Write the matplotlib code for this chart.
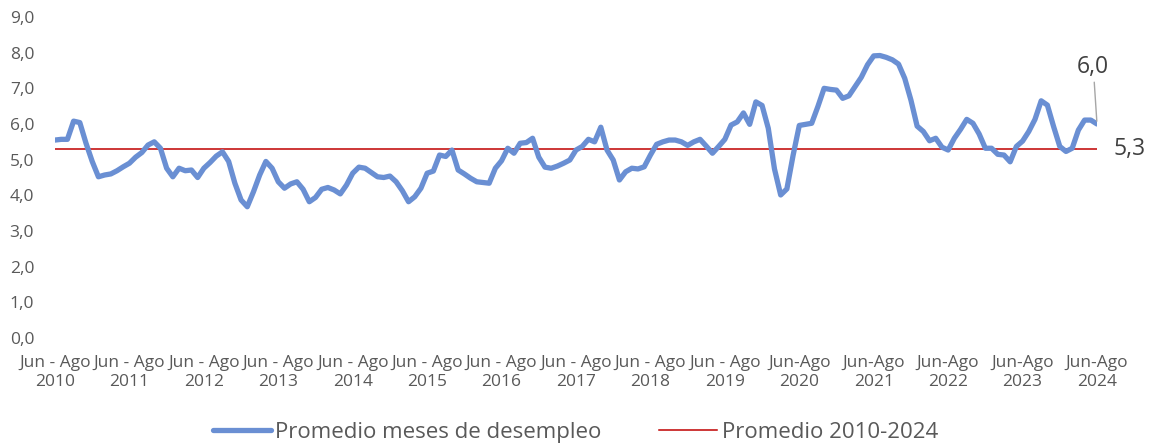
import matplotlib
matplotlib.use("Agg")
import matplotlib.pyplot as plt
from matplotlib.ticker import FuncFormatter

plt.rcParams['font.family'] = ['Open Sans', 'DejaVu Sans']

# Data: 3-month rolling "Jun-Ago 2010" .. "Jun-Ago 2024" (169 monthly points)
desempleo = [
    5.55, 5.57, 5.57, 6.08, 6.04, 5.46, 4.95, 4.52, 4.57, 4.60, 4.69, 4.80,
    4.90, 5.07, 5.20, 5.41, 5.50, 5.32, 4.76, 4.52, 4.76, 4.69, 4.71, 4.50,
    4.76, 4.92, 5.10, 5.22, 4.95, 4.34, 3.87, 3.68, 4.10, 4.57, 4.95, 4.76,
    4.38, 4.20, 4.32, 4.38, 4.17, 3.82, 3.94, 4.17, 4.22, 4.15, 4.04, 4.29,
    4.62, 4.79, 4.76, 4.64, 4.52, 4.50, 4.54, 4.38, 4.13, 3.82, 3.96, 4.20,
    4.62, 4.68, 5.13, 5.09, 5.27, 4.71, 4.60, 4.48, 4.38, 4.36, 4.34, 4.76,
    4.97, 5.32, 5.18, 5.46, 5.48, 5.60, 5.07, 4.79, 4.76, 4.82, 4.90, 4.99,
    5.27, 5.37, 5.57, 5.50, 5.91, 5.27, 4.99, 4.43, 4.66, 4.76, 4.74, 4.80,
    5.13, 5.43, 5.50, 5.55, 5.55, 5.50, 5.40, 5.50, 5.57, 5.38, 5.18, 5.37,
    5.57, 5.97, 6.06, 6.31, 5.99, 6.62, 6.52, 5.88, 4.74, 4.01, 4.18, 5.12,
    5.96, 5.99, 6.02, 6.49, 7.00, 6.97, 6.95, 6.72, 6.79, 7.05, 7.31, 7.66,
    7.91, 7.92, 7.87, 7.80, 7.68, 7.28, 6.67, 5.94, 5.79, 5.53, 5.60, 5.35,
    5.27, 5.60, 5.85, 6.13, 6.02, 5.72, 5.32, 5.32, 5.15, 5.13, 4.94, 5.37,
    5.52, 5.79, 6.13, 6.65, 6.53, 5.93, 5.37, 5.23, 5.32, 5.83, 6.11, 6.11,
    6.00,
]
promedio = 5.3
years = list(range(2010, 2025))
tick_labels = [("Jun - Ago\n%d" % y) if y < 2020 else ("Jun-Ago\n%d" % y) for y in years]
ultimo_label = "6,0"
promedio_label = "5,3"

x = list(range(len(desempleo)))
tick_pos = list(range(0, len(desempleo), 12))

fig = plt.figure(figsize=(11.51, 4.44), dpi=100)
ax = fig.add_axes([55/1151, (444-338)/444, (1097-55)/1151, (338-17)/444])

blue = '#6a8fd3'
red = '#c00000'
grey = '#595959'

ax.plot(x, desempleo, color=blue, lw=3.8, solid_capstyle='round', solid_joinstyle='round',
        label='Promedio meses de desempleo', zorder=3)
ax.plot([x[0], x[-1]], [promedio, promedio], color=red, lw=1.1,
        label='Promedio 2010-2024', zorder=2)

ax.set_xlim(0, len(desempleo) - 1)
ax.set_ylim(0, 9)
ax.set_yticks(range(0, 10))
ax.yaxis.set_major_formatter(FuncFormatter(lambda v, p: ("%.1f" % v).replace('.', ',')))
ax.set_xticks(tick_pos)
ax.set_xticklabels(tick_labels, linespacing=1.3)
ax.tick_params(axis='both', length=0, labelsize=12.5, labelcolor=grey)
ax.tick_params(axis='y', pad=15)
ax.tick_params(axis='x', pad=12)
for s in ax.spines.values():
    s.set_visible(False)

# annotations
ax.annotate(ultimo_label, xy=(x[-1], desempleo[-1]), xytext=(x[-1] - 0.6, 7.25),
            ha='center', va='bottom', fontsize=16.5, color='#404040',
            arrowprops=dict(arrowstyle='-', color='#a6a6a6', lw=1.0, shrinkA=0, shrinkB=2))
ax.text(x[-1] + 2.6, promedio, promedio_label, ha='left', va='center', fontsize=16.5,
        color='#404040', clip_on=False)

leg = fig.legend(loc='center', ncol=2,
                 frameon=False, fontsize=16, handlelength=2.6, columnspacing=2.6,
                 handletextpad=0.2, labelcolor=grey)
leg.set_bbox_to_anchor((0.5, (444-432)/444), transform=fig.transFigure)

fig.savefig('out.png', dpi=100)
